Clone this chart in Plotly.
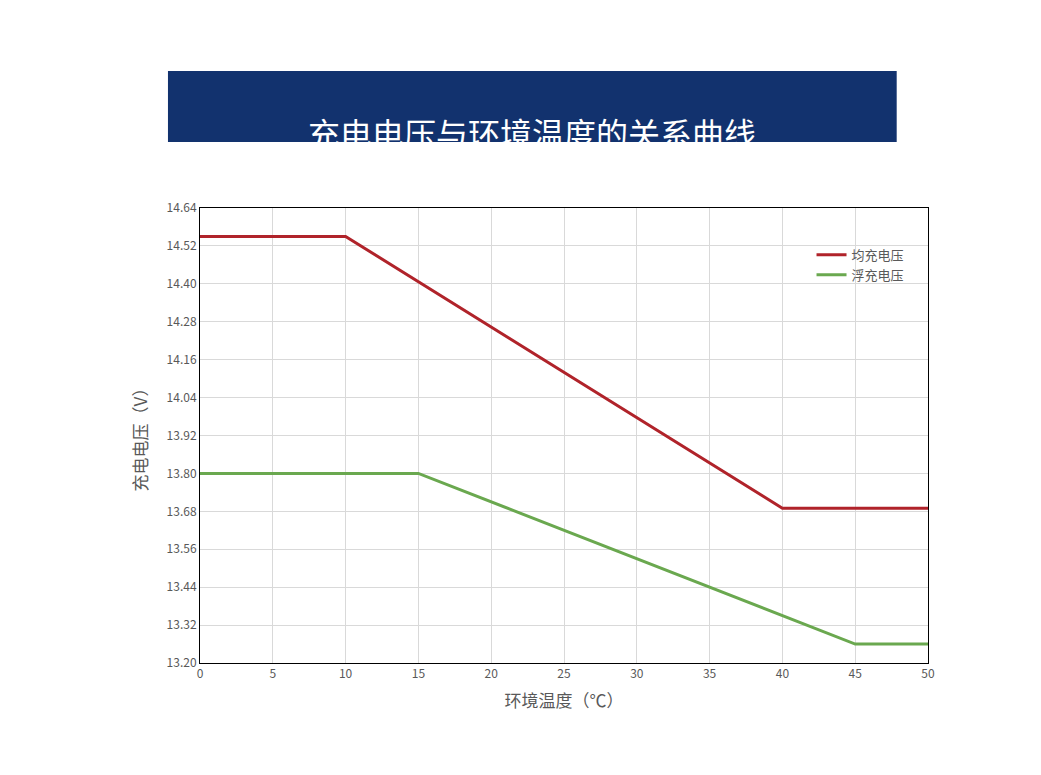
import plotly.graph_objects as go

# 充电电压与环境温度 data
temp_eq = [0, 10, 40, 50]
volt_eq = [14.55, 14.55, 13.69, 13.69]
temp_fl = [0, 15, 45, 50]
volt_fl = [13.80, 13.80, 13.26, 13.26]
y_ticks = [13.20, 13.32, 13.44, 13.56, 13.68, 13.80, 13.92, 14.04, 14.16, 14.28, 14.40, 14.52, 14.64]

font = "Noto Sans CJK SC"

fig = go.Figure()
fig.add_trace(go.Scatter(x=temp_eq, y=volt_eq, mode="lines", name="均充电压",
                         line=dict(color="#b0232a", width=3)))
fig.add_trace(go.Scatter(x=temp_fl, y=volt_fl, mode="lines", name="浮充电压",
                         line=dict(color="#6aa84f", width=3)))

fig.update_layout(
    width=1041, height=775,
    margin=dict(l=192, r=121, t=200, b=120),
    paper_bgcolor="white", plot_bgcolor="white",
    font=dict(family=font, color="#595959", size=12),
    showlegend=True,
    legend=dict(x=0.84, y=0.93, xanchor="left", yanchor="top",
                bgcolor="rgba(0,0,0,0)", font=dict(size=13, color="#595959"),
                tracegroupgap=12),
    xaxis=dict(range=[0, 50], tickvals=list(range(0, 55, 5)),
               showgrid=True, gridcolor="#d9d9d9", zeroline=False,
               showline=True, linecolor="black", mirror=True,
               title=dict(text="环境温度（℃）", font=dict(size=17, color="#595959"), standoff=14)),
    yaxis=dict(range=[13.20, 14.64], tickvals=y_ticks,
               ticktext=[f"{v:.2f}" for v in y_ticks],
               showgrid=True, gridcolor="#d9d9d9", zeroline=False,
               showline=True, linecolor="black", mirror=True,
               title=dict(text="充电电压（V）", font=dict(size=17, color="#595959"), standoff=14)),
    shapes=[dict(type="rect", xref="paper", yref="paper",
                 x0=-0.044, x1=0.957, y0=1.145, y1=1.301,
                 fillcolor="#12326e", line=dict(width=0), layer="below")],
    annotations=[dict(text="充电电压与环境温度的关系曲线", xref="paper", yref="paper",
                      x=0.456, y=1.223, showarrow=False,
                      font=dict(family=font, size=32, color="white"))],
)

fig.write_html("out.html")
